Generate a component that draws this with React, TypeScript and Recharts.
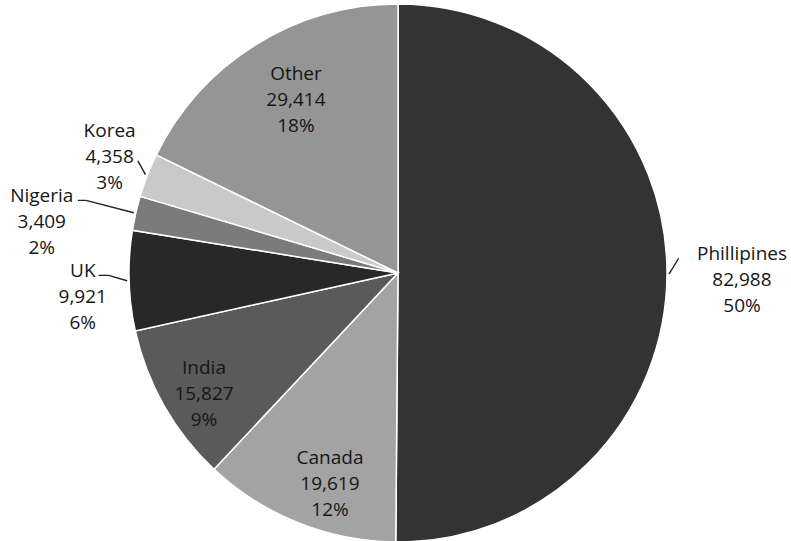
import React from 'react';
import { PieChart, Pie, Cell } from 'recharts';

const countries = ['Phillipines', 'Canada', 'India', 'UK', 'Nigeria', 'Korea', 'Other'];
const students = [82988, 19619, 15827, 9921, 3409, 4358, 29414];
const valueLabels = ['82,988', '19,619', '15,827', '9,921', '3,409', '4,358', '29,414'];
const percentLabels = ['50%', '12%', '9%', '6%', '2%', '3%', '18%'];

const colors = ['#333333', '#a3a3a3', '#5a5a5a', '#282828', '#7b7b7b', '#c9c9c9', '#959595'];
const labelRadius = [1.279, 0.822, 0.848, 1.175, 1.338, 1.157, 0.75];
const labelShift = [0.8, -3.9, -2.1, -2.6, -4.6, 0.8, 1.6];
const leaderLine = [0, -1, -1, 0, 0, 1, -1]; // which text line the leader starts from, -1 none
const leaderElbow = [0, 0, 0, 10, 8, 0, 0];

const data = countries.map((c, i) => ({ name: c, value: students[i] }));

const FONT = 19;
const LINE = 26;
const estWidth = (s: string) => {
  let w = 0;
  for (const ch of s) {
    if (ch === ',' || ch === 'i' || ch === 'l') w += 0.27;
    else if (ch === '%') w += 0.82;
    else if (ch === 'K' || ch === 'U') w += 0.62;
    else w += 0.57;
  }
  return w * FONT;
};

const renderLabel = (props: any) => {
  const { cx, cy, midAngle, outerRadius, index } = props;
  const theta = 90 - midAngle;
  const t = ((theta + labelShift[index]) * Math.PI) / 180;
  const r = outerRadius * labelRadius[index];
  const tx = cx + r * Math.sin(t);
  const ty = cy - r * Math.cos(t);
  const lines = [countries[index], valueLabels[index], percentLabels[index]];
  let leader: React.ReactNode = null;
  const li = leaderLine[index];
  if (li >= 0) {
    const tm = (theta * Math.PI) / 180;
    const ex = cx + (outerRadius + 2) * Math.sin(tm);
    const ey = cy - (outerRadius + 2) * Math.cos(tm);
    const ly = ty + (li - 1) * LINE + 5;
    const left = Math.sin(tm) < 0;
    const w = estWidth(lines[li]);
    const sx = left ? tx + w / 2 + 4 : tx - w / 2 - 18;
    const bx = left ? sx + leaderElbow[index] : sx - leaderElbow[index];
    leader = (
      <polyline
        points={`${sx},${ly} ${bx},${ly} ${ex},${ey}`}
        fill="none"
        stroke="#222"
        strokeWidth={1.4}
      />
    );
  }
  return (
    <g key={`lbl-${index}`}>
      {leader}
      <text
        x={tx}
        y={ty}
        textAnchor="middle"
        fontFamily="'Open Sans', sans-serif"
        fontSize={FONT}
        fill="#161616"
      >
        {lines.map((s, k) => (
          <tspan key={k} x={tx} y={ty + (k - 1) * LINE} dominantBaseline="central">
            {s}
          </tspan>
        ))}
      </text>
    </g>
  );
};

export default function App() {
  return (
    <div style={{ position: 'absolute', left: 0, top: 0, width: 791, height: 541, background: '#fff' }}>
      <PieChart width={791} height={541} margin={{ top: 0, right: 0, bottom: 0, left: 0 }}>
        <Pie
          data={data}
          dataKey="value"
          nameKey="name"
          cx={398}
          cy={273}
          outerRadius={269}
          startAngle={90}
          endAngle={-270}
          stroke="#ffffff"
          strokeWidth={1.5}
          label={renderLabel}
          labelLine={false}
          isAnimationActive={false}
        >
          {data.map((d, i) => (
            <Cell key={d.name} fill={colors[i]} />
          ))}
        </Pie>
      </PieChart>
    </div>
  );
}
